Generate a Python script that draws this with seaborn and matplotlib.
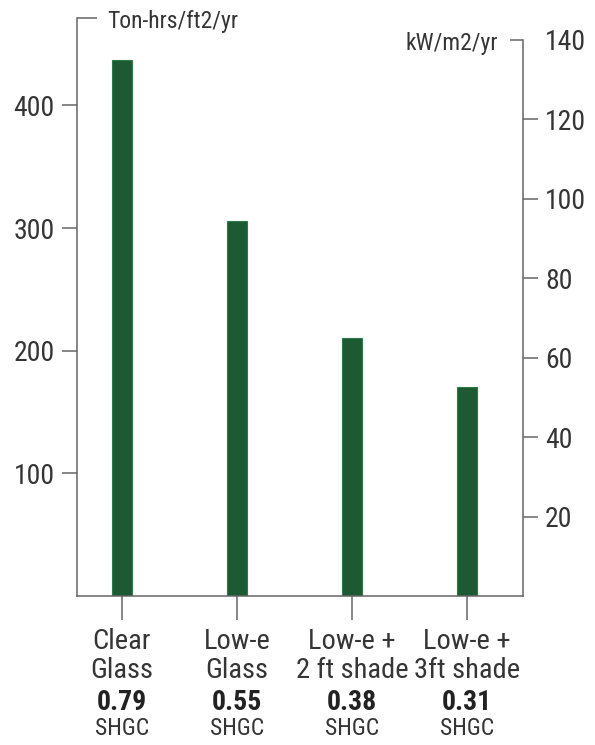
import matplotlib
matplotlib.use("Agg")
import matplotlib.pyplot as plt
from matplotlib import font_manager
import seaborn as sns
import pandas as pd

# Annual cooling load per glazing option
categories = ["Clear\nGlass", "Low-e\nGlass", "Low-e +\n2 ft shade", "Low-e +\n3ft shade"]
cooling = [437, 306, 210, 170]          # Ton-hrs/ft2/yr
shgc = ["0.79", "0.55", "0.38", "0.31"]
left_ticks = [100, 200, 300, 400]
right_ticks = [20, 40, 60, 80, 100, 120, 140]
left_unit = "Ton-hrs/ft2/yr"
right_unit = "kW/m2/yr"

BAR = "#1d5a33"
EDGE = "#2f7a47"
INK = "#353535"
AXIS = "#666666"

sns.set_theme(style="white")

# pick a narrow sans face if one is available
fonts = font_manager.fontManager.ttflist
names = {f.name for f in fonts}
family, stretch = "Liberation Sans", "normal"
for cand in ["Liberation Sans Narrow", "Roboto Condensed", "Open Sans Condensed",
             "Arial Narrow", "Noto Sans Condensed"]:
    if cand in names:
        family = cand
        break
else:
    for f in fonts:
        if f.name == "DejaVu Sans" and str(f.stretch) in ("condensed", "semi-condensed", "500"):
            family, stretch = "DejaVu Sans", "condensed"
            break
plt.rcParams["font.family"] = [family, "DejaVu Sans"]
plt.rcParams["font.stretch"] = stretch
plt.rcParams["text.color"] = INK

df = pd.DataFrame({"option": categories, "load": cooling})

fig = plt.figure(figsize=(5.95, 7.45), dpi=100)
ax = fig.add_axes([0.1294, 0.2, 0.7496, 0.7758])

sns.barplot(data=df, x="option", y="load", color=BAR, width=0.17,
            edgecolor=EDGE, linewidth=0.8, saturation=1, ax=ax)

left_top = 471.2
ax.set_ylim(0, left_top)
ax.set_xlim(-0.391, 3.487)
ax.set_xlabel("")
ax.set_ylabel("")

# left axis
ax.set_yticks(left_ticks)
ax.set_yticklabels([str(t) for t in left_ticks], fontsize=20, color=INK)
ax.tick_params(axis="y", which="major", direction="out", length=11, width=1.1,
               color=AXIS, pad=5, left=True)
ax.tick_params(axis="x", which="major", direction="out", length=17, width=1.1,
               color=AXIS, pad=6, bottom=True, labelsize=20.5, labelcolor=INK)
for lab in ax.get_xticklabels():
    lab.set_linespacing(1.1)

for side in ["top", "right"]:
    ax.spines[side].set_visible(False)
for side in ["left", "bottom"]:
    ax.spines[side].set_color(AXIS)
    ax.spines[side].set_linewidth(1.1)

# corner marker and unit on the left axis
ax.plot([0, 0.045], [1, 1], transform=ax.transAxes, color=AXIS, lw=1.1,
        clip_on=False, solid_capstyle="butt")
ax.text(0.067, 0.9827, left_unit, transform=ax.transAxes, fontsize=17,
        ha="left", va="baseline", color=INK)

# right axis in metric units
ax2 = ax.twinx()
ax2.set_ylim(0, left_top * 1.2267 / 3.975)
ax2.set_yticks(right_ticks)
ax2.set_yticklabels([str(t) for t in right_ticks], fontsize=20, color=INK)
ax2.tick_params(axis="y", direction="out", length=11, width=1.1, color=AXIS,
                pad=5, right=True)
ax2.yaxis.get_major_ticks()[-1].tick2line.set_visible(False)
for side in ["top", "left", "bottom"]:
    ax2.spines[side].set_visible(False)
ax2.spines["right"].set_color(AXIS)
ax2.spines["right"].set_linewidth(1.1)
ax2.spines["right"].set_bounds(0, 140)
ax2.grid(False)
ax.grid(False)

ax2.plot([0.971, 1.0], [140, 140], transform=ax2.get_yaxis_transform(),
         color=AXIS, lw=1.1, clip_on=False, solid_capstyle="butt")
ax2.text(0.944, 0.9446, right_unit, transform=ax2.transAxes, fontsize=17,
         ha="right", va="baseline", color=INK)

# SHGC values under each option
xt = ax.get_xaxis_transform()
for i, v in enumerate(shgc):
    ax.text(i, -0.1835, v, transform=xt, ha="center", va="center",
            fontsize=20, fontweight="bold", color="#222222")
    ax.text(i, -0.2295, "SHGC", transform=xt, ha="center", va="center",
            fontsize=17, color=INK)

fig.savefig("out.png", dpi=100)
